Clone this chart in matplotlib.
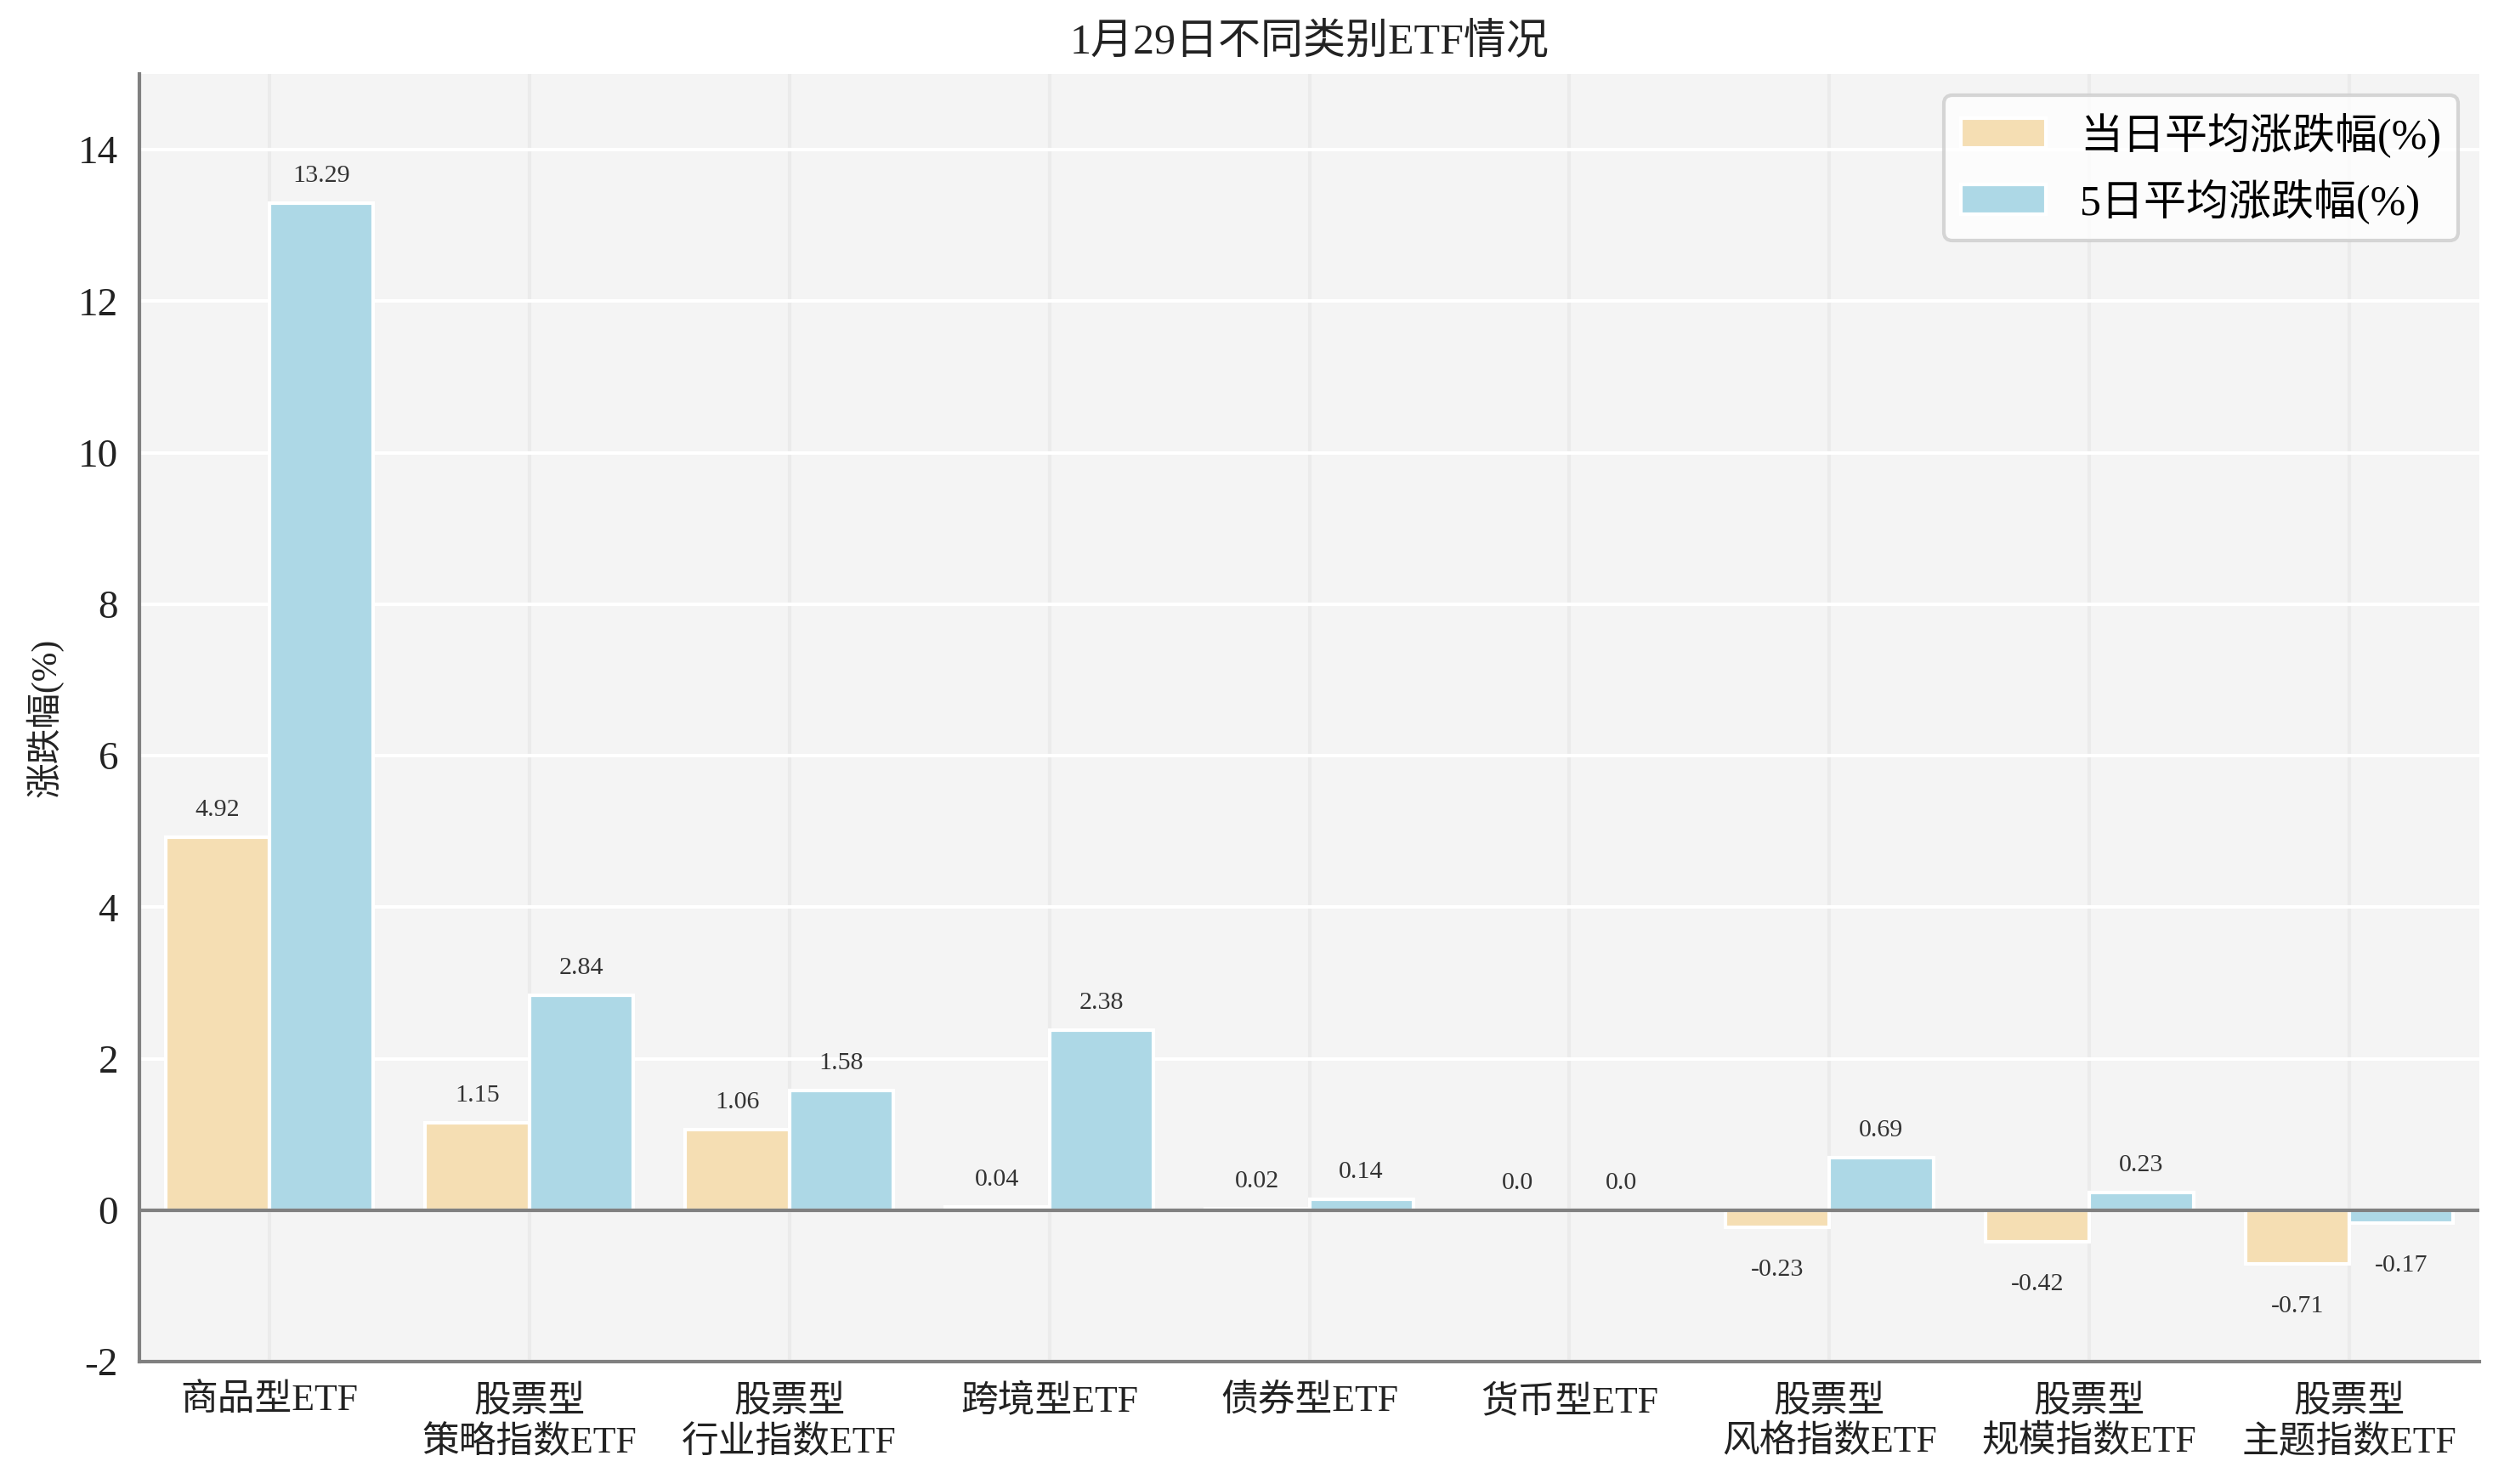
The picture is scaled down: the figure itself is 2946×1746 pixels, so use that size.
import matplotlib
matplotlib.use("Agg")
import matplotlib.pyplot as plt
import numpy as np

plt.rcParams['font.family'] = ['Liberation Serif', 'Noto Sans CJK SC']
plt.rcParams['axes.unicode_minus'] = False

categories = ["商品型ETF", "股票型\n策略指数ETF", "股票型\n行业指数ETF", "跨境型ETF",
              "债券型ETF", "货币型ETF", "股票型\n风格指数ETF", "股票型\n规模指数ETF",
              "股票型\n主题指数ETF"]
daily_change = [4.92, 1.15, 1.06, 0.04, 0.02, 0.0, -0.23, -0.42, -0.71]
five_day_change = [13.29, 2.84, 1.58, 2.38, 0.14, 0.0, 0.69, 0.23, -0.17]
series_names = ["当日平均涨跌幅(%)", "5日平均涨跌幅(%)"]
title = "1月29日不同类别ETF情况"
ylabel = "涨跌幅(%)"
yticks = [-2, 0, 2, 4, 6, 8, 10, 12, 14]

fig = plt.figure(figsize=(9.82, 5.82), dpi=300)
ax = fig.add_axes([164/2946, 1 - 1602/1746, (2917-164)/2946, (1602-87)/1746])

ax.set_facecolor('#f4f4f4')
x = np.arange(len(categories))
w = 0.4
b1 = ax.bar(x - w/2, daily_change, w, color='#F5DEB3', edgecolor='white', linewidth=1.0,
            label=series_names[0], zorder=3)
b2 = ax.bar(x + w/2, five_day_change, w, color='#ADD8E6', edgecolor='white', linewidth=1.0,
            label=series_names[1], zorder=3)

for bars, vals in ((b1, daily_change), (b2, five_day_change)):
    for rect, v in zip(bars, vals):
        cx = rect.get_x() + rect.get_width()/2
        if v >= 0:
            ax.annotate(f"{v}", (cx, v), xytext=(0, 7.7), textcoords='offset points',
                        ha='center', va='center', fontsize=7.2, color='#333333', zorder=5)
        else:
            ax.annotate(f"{v}", (cx, v), xytext=(0, -12), textcoords='offset points',
                        ha='center', va='center', fontsize=7.2, color='#333333', zorder=5)

ax.axhline(0, color='#808080', linewidth=1.0, zorder=4)

ax.set_xlim(-0.5, len(categories) - 0.5)
ax.set_ylim(-2, 15)
ax.set_yticks(yticks)
ax.set_xticks(x)
ax.set_xticklabels(categories, fontsize=10.5, linespacing=1.22)
ax.tick_params(axis='y', labelsize=11.3, length=0, pad=6, colors='#222222')
ax.tick_params(axis='x', length=0, pad=6.5, colors='#222222')

ax.set_axisbelow(True)
ax.yaxis.grid(True, color='white', linewidth=1.0)
ax.xaxis.grid(True, color='#ebebeb', linewidth=1.0)

for s in ('top', 'right'):
    ax.spines[s].set_visible(False)
for s in ('left', 'bottom'):
    ax.spines[s].set_color('#808080')
    ax.spines[s].set_linewidth(1.0)

ax.set_title(title, fontsize=12, pad=6, color='#222222')
ax.set_ylabel(ylabel, fontsize=10, color='#222222', labelpad=4)

leg = ax.legend(loc='upper right', fontsize=12, frameon=True, fancybox=True,
                edgecolor='#cccccc', facecolor='white', framealpha=0.8)
leg.get_frame().set_linewidth(1.0)

fig.savefig('out.png', dpi=300)
